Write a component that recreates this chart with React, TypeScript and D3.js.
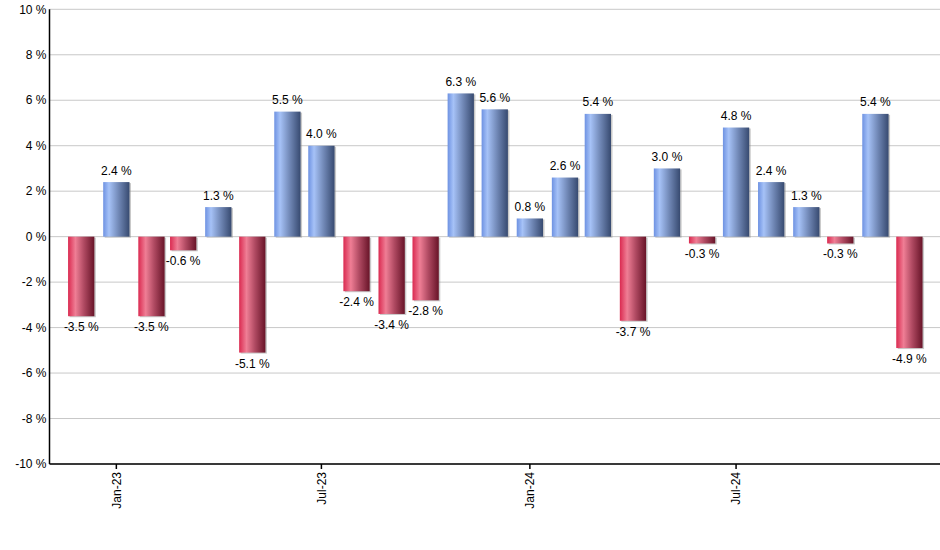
import React from "react";
import * as d3 from "d3";

const months: string[] = [
  "2022-12", "2023-01", "2023-02", "2023-03", "2023-04", "2023-05", "2023-06",
  "2023-07", "2023-08", "2023-09", "2023-10", "2023-11", "2023-12",
  "2024-01", "2024-02", "2024-03", "2024-04", "2024-05", "2024-06",
  "2024-07", "2024-08", "2024-09", "2024-10", "2024-11", "2024-12",
];
const values: number[] = [
  -3.5, 2.4, -3.5, -0.6, 1.3, -5.1, 5.5, 4.0, -2.4, -3.4, -2.8, 6.3, 5.6,
  0.8, 2.6, 5.4, -3.7, 3.0, -0.3, 4.8, 2.4, 1.3, -0.3, 5.4, -4.9,
];
const yTicks: number[] = [-10, -8, -6, -4, -2, 0, 2, 4, 6, 8, 10];
const xTickLabels: string[] = ["2023-01", "2023-07", "2024-01", "2024-07"];

const W = 940;
const H = 550;
const left = 49.5;
const right = 940;
const top = 9.3;
const bottom = 464;

export default function App() {
  const parse = d3.timeParse("%Y-%m");
  const dates = months.map((m) => parse(m) as Date);
  const first = dates[0];
  const last = dates[dates.length - 1];
  const x = d3
    .scaleTime()
    .domain([d3.timeDay.offset(first, -27.4), d3.timeDay.offset(last, 27.4)])
    .range([left, right]);
  const y = d3.scaleLinear().domain([-10, 10]).range([bottom, top]);
  const barW = 26.3;
  const fmt = d3.timeFormat("%b-%y");
  const font = "'Liberation Sans', Arial, sans-serif";
  const fmtVal = (v: number) => d3.format(".1f")(v).replace("\u2212", "-") + " %";

  return (
    <svg
      width={W}
      height={H}
      style={{ position: "absolute", left: 0, top: 0, background: "#fff" }}
      fontFamily={font}
    >
      <defs>
        <linearGradient id="gBlue" x1="0" x2="1" y1="0" y2="0">
          <stop offset="0%" stopColor="#6e92e2" />
          <stop offset="22%" stopColor="#a6c2f7" />
          <stop offset="60%" stopColor="#6f86b4" />
          <stop offset="100%" stopColor="#374a70" />
        </linearGradient>
        <linearGradient id="gRed" x1="0" x2="1" y1="0" y2="0">
          <stop offset="0%" stopColor="#da2a50" />
          <stop offset="28%" stopColor="#ef7e95" />
          <stop offset="60%" stopColor="#b04a62" />
          <stop offset="100%" stopColor="#681428" />
        </linearGradient>
      </defs>

      {yTicks.map((t) => (
        <g key={t}>
          <line x1={left} x2={right} y1={y(t)} y2={y(t)} stroke="#c8c8c8" strokeWidth={1} />
          <text x={46.5} y={y(t)} dy="0.35em" textAnchor="end" fontSize={12} fill="#000">
            {t} %
          </text>
        </g>
      ))}

      {values.map((v, i) => {
        const cx = x(dates[i]);
        const y0 = y(0);
        const y1 = y(v);
        const yTop = Math.min(y0, y1);
        const h = Math.abs(y1 - y0);
        return (
          <g key={i}>
            <rect x={cx - barW / 2 + 1.5} y={yTop + 1} width={barW} height={h} fill="#888" opacity={0.45} />
            <rect x={cx - barW / 2} y={yTop} width={barW} height={h} fill={v >= 0 ? "url(#gBlue)" : "url(#gRed)"} />
            <text
              x={cx}
              y={v >= 0 ? y1 - 7.5 : y1 + 15}
              textAnchor="middle"
              fontSize={12}
              fill="#000"
            >
              {fmtVal(v)}
            </text>
          </g>
        );
      })}

      <line x1={left} x2={left} y1={top} y2={bottom} stroke="#000" strokeWidth={1.5} />
      <line x1={left} x2={right} y1={bottom} y2={bottom} stroke="#000" strokeWidth={1.5} />

      {xTickLabels.map((m) => {
        const d = parse(m) as Date;
        const tx = x(d);
        return (
          <g key={m}>
            <line x1={tx} x2={tx} y1={bottom} y2={bottom + 5} stroke="#000" strokeWidth={1.5} />
            <text
              transform={`translate(${tx},${bottom + 8}) rotate(-90)`}
              textAnchor="end"
              dy="0.35em"
              fontSize={12}
              fill="#000"
            >
              {fmt(d)}
            </text>
          </g>
        );
      })}
    </svg>
  );
}
